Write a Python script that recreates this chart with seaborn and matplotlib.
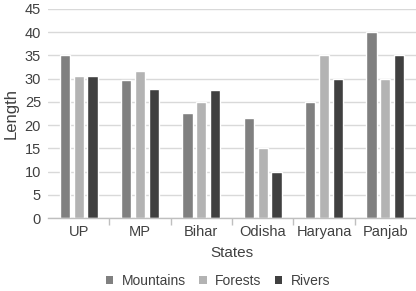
import matplotlib
matplotlib.use("Agg")
import matplotlib.pyplot as plt
import seaborn as sns
import pandas as pd
import numpy as np
from matplotlib.patches import Patch

states = ["UP", "MP", "Bihar", "Odisha", "Haryana", "Panjab"]
mountains = [35, 29.7, 22.6, 21.6, 25, 40]
forests = [30.5, 31.6, 25, 15, 35, 30]
rivers = [30.5, 27.7, 27.5, 10, 30, 35]
series = ["Mountains", "Forests", "Rivers"]
colors = ["#808080", "#b3b3b3", "#404040"]

df = pd.DataFrame({
    "States": states * 3,
    "Length": mountains + forests + rivers,
    "Series": [series[0]] * 6 + [series[1]] * 6 + [series[2]] * 6,
})

sns.set_theme(style="white")
plt.rcParams["font.family"] = ["Liberation Sans", "DejaVu Sans"]
txt = "#404040"

fig = plt.figure(figsize=(4.16, 2.91), dpi=100)
ax = fig.add_axes([48 / 416, 1 - 218 / 291, 368 / 416, 209 / 291])

sns.barplot(data=df, x="States", y="Length", hue="Series", palette=colors,
            width=0.67, gap=0.25, ax=ax, legend=False, saturation=1)

ax.set_ylim(0, 45)
ax.set_xlim(-0.5, 5.5)
ax.set_yticks(np.arange(0, 46, 5))
ax.yaxis.grid(True, color="#d9d9d9", linewidth=1)
ax.set_axisbelow(True)
for s in ["left", "right", "top"]:
    ax.spines[s].set_visible(False)
ax.spines["bottom"].set_color("#bfbfbf")
ax.spines["bottom"].set_linewidth(1)

ax.set_xticks(np.arange(0.5, 5.5, 1), minor=True)
ax.tick_params(axis="x", which="minor", length=5, color="#bfbfbf", width=1, direction="out", bottom=True)
ax.tick_params(axis="x", which="major", length=0, labelsize=10.5, labelcolor=txt, pad=5)
ax.tick_params(axis="y", length=0, labelsize=10.5, labelcolor=txt, pad=5)

ax.set_xlabel("States", fontsize=11, color=txt, labelpad=5)
ax.set_ylabel("Length", fontsize=12, color=txt, labelpad=4)

handles = [Patch(facecolor=c, edgecolor="none", label=l) for c, l in zip(colors, series)]
fig.legend(handles=handles, loc="center", bbox_to_anchor=(218 / 416, 1 - 281 / 291), ncol=3,
           frameon=False, fontsize=10, handlelength=0.55, handleheight=0.55,
           handletextpad=0.6, columnspacing=0.95, labelcolor=txt)

fig.savefig("out.png", dpi=100)
